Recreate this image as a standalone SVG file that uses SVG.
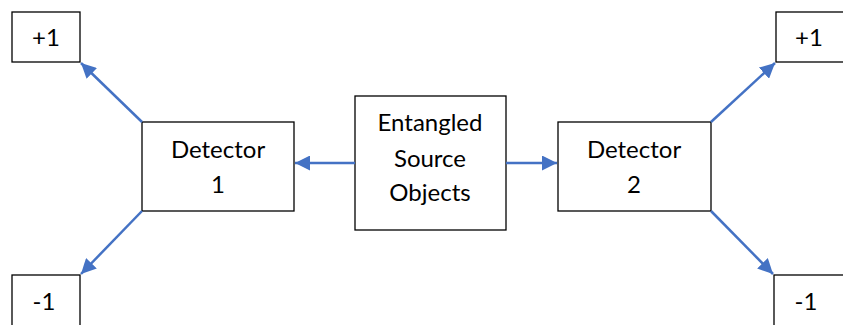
<svg xmlns="http://www.w3.org/2000/svg" width="843" height="325" viewBox="0 0 843 325">
<style>
.box{fill:#fff;stroke:#000;stroke-width:1.3}
.t{font-family:Lato,"Open Sans",sans-serif;font-size:24px;fill:#000;text-anchor:middle}
.c{stroke:#4472C4;stroke-width:2.5;fill:none}
</style>
<defs>
<marker id="ah" viewBox="0 0 10 10" refX="10" refY="5" markerWidth="6" markerHeight="6" orient="auto" markerUnits="strokeWidth">
<path d="M0,0 L10,5 L0,10 z" fill="#4472C4"/>
</marker>
</defs>
<rect width="843" height="325" fill="#fff"/>
<g id="plus1-left"><rect class="box" x="12" y="12" width="68" height="50"/><text class="t" x="46" y="46">+1</text></g>
<g id="minus1-left"><rect class="box" x="12" y="275" width="68" height="55"/><text class="t" x="44" y="310">-1</text></g>
<g id="plus1-right"><rect class="box" x="776" y="12" width="68" height="50"/><text class="t" x="809" y="46">+1</text></g>
<g id="minus1-right"><rect class="box" x="774" y="275" width="70" height="55"/><text class="t" x="806" y="310">-1</text></g>
<g id="detector1"><rect class="box" x="142" y="122" width="152" height="89"/><text class="t" x="218" y="158">Detector</text><text class="t" x="218" y="193">1</text></g>
<g id="source"><rect class="box" x="355" y="96" width="151" height="134"/><text class="t" x="430" y="131">Entangled</text><text class="t" x="430" y="167">Source</text><text class="t" x="430" y="201">Objects</text></g>
<g id="detector2"><rect class="box" x="558" y="122" width="153" height="89"/><text class="t" x="634" y="158">Detector</text><text class="t" x="634" y="193">2</text></g>
<g id="connectors">
<line class="c" x1="355" y1="163" x2="295" y2="163" marker-end="url(#ah)"/>
<line class="c" x1="506" y1="163" x2="557" y2="163" marker-end="url(#ah)"/>
<line class="c" x1="142" y1="122" x2="81" y2="63" marker-end="url(#ah)"/>
<line class="c" x1="142" y1="211" x2="81" y2="274" marker-end="url(#ah)"/>
<line class="c" x1="711" y1="122" x2="775" y2="63" marker-end="url(#ah)"/>
<line class="c" x1="711" y1="211" x2="773" y2="274" marker-end="url(#ah)"/>
</g>
</svg>
